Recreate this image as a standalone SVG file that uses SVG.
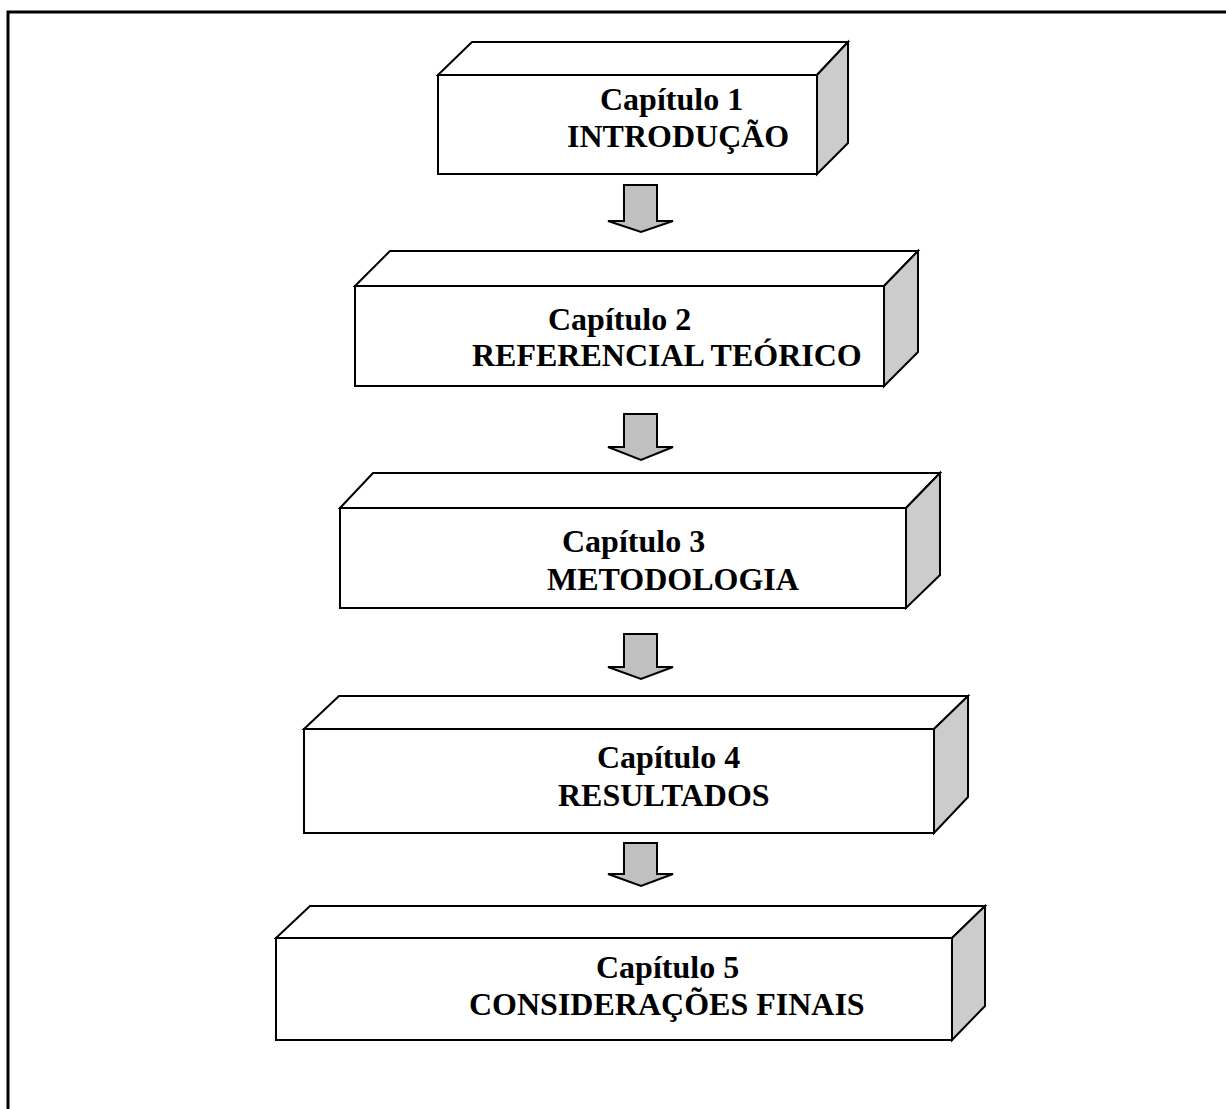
<svg xmlns="http://www.w3.org/2000/svg" width="1226" height="1109" viewBox="0 0 1226 1109">
<style>
.face{fill:#fff;stroke:#000;stroke-width:2;stroke-linejoin:miter}
.side{fill:#cccccc;stroke:#000;stroke-width:2}
.arr{fill:#c0c0c0;stroke:#000;stroke-width:2;stroke-linejoin:miter}
.t{font-family:"Liberation Serif","Times New Roman",serif;font-weight:bold;font-size:32px;fill:#000}
</style>
<rect width="1226" height="1109" fill="#fff"/>
<g id="frame">
<path d="M8 1109 V12 H1226" fill="none" stroke="#000" stroke-width="3"/>
</g>
<g id="cap1">
<polygon class="face" points="438,75 472,42 848,42 817,75"/>
<polygon class="side" points="817,75 848,42 848,143 817,174"/>
<rect class="face" x="438" y="75" width="379" height="99"/>
<text class="t" x="600" y="110">Capítulo 1</text>
<text class="t" x="567" y="147">INTRODUÇÃO</text>
</g>
<g id="cap2">
<polygon class="face" points="355,286 390,251 918,251 884,286"/>
<polygon class="side" points="884,286 918,251 918,352 884,386"/>
<rect class="face" x="355" y="286" width="529" height="100"/>
<text class="t" x="548" y="330">Capítulo 2</text>
<text class="t" x="472" y="366">REFERENCIAL TEÓRICO</text>
</g>
<g id="cap3">
<polygon class="face" points="340,508 373,473 940,473 906,508"/>
<polygon class="side" points="906,508 940,473 940,575 906,608"/>
<rect class="face" x="340" y="508" width="566" height="100"/>
<text class="t" x="562" y="552">Capítulo 3</text>
<text class="t" x="547" y="590">METODOLOGIA</text>
</g>
<g id="cap4">
<polygon class="face" points="304,729 339,696 968,696 934,729"/>
<polygon class="side" points="934,729 968,696 968,797 934,833"/>
<rect class="face" x="304" y="729" width="630" height="104"/>
<text class="t" x="597" y="768">Capítulo 4</text>
<text class="t" x="558" y="806">RESULTADOS</text>
</g>
<g id="cap5">
<polygon class="face" points="276,938 310,906 985,906 952,938"/>
<polygon class="side" points="952,938 985,906 985,1006 952,1040"/>
<rect class="face" x="276" y="938" width="676" height="102"/>
<text class="t" x="596" y="978">Capítulo 5</text>
<text class="t" x="469" y="1015">CONSIDERAÇÕES FINAIS</text>
</g>
<g id="connectors">
<polygon class="arr" points="624,185 657,185 657,221 673,221 641,232 608,221 624,221"/>
<polygon class="arr" points="624,414 657,414 657,447 673,447 641,460 608,447 624,447"/>
<polygon class="arr" points="624,634 657,634 657,667 673,667 641,679 608,667 624,667"/>
<polygon class="arr" points="624,843 657,843 657,874 673,874 641,886 608,874 624,874"/>
</g>
</svg>
